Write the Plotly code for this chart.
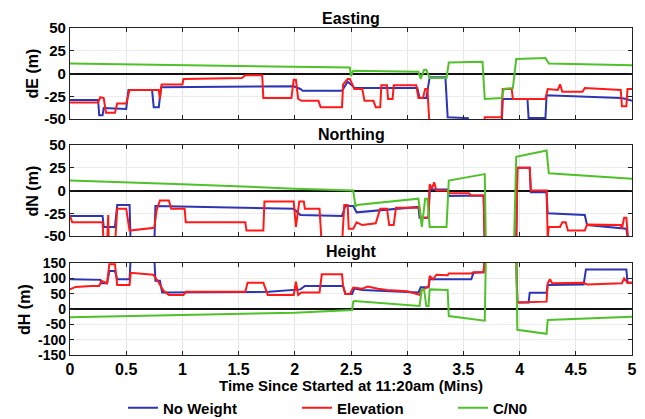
import plotly.graph_objects as go

# ---------------- data (time in minutes) ----------------
# Easting
E_nw_t = [0, 0.25, 0.26, 0.29, 0.30, 0.50, 0.52, 0.73, 0.745, 0.79, 0.81, 1.5, 1.99, 2.05, 2.07, 2.42, 2.47, 2.50, 2.53, 3.09, 3.11, 3.17, 3.20, 3.34, 3.36, 3.54, 3.55, 3.84, 3.85, 4.07, 4.08, 4.23, 4.24, 4.9, 4.95, 5.0]
E_nw   = [-29, -29, -46, -46, -38, -39, -18, -18, -37, -37, -15, -14, -14, -17, -19, -19, -9, -12, -16, -16, -27, -27, -4, -4, -48, -49, -60, -60, -28, -28, -49, -49, -24, -27, -28, -30]
E_el_t = [0, 0.25, 0.27, 0.30, 0.32, 0.40, 0.42, 0.50, 0.53, 0.79, 0.80, 0.815, 1.00, 1.01, 1.53, 1.56, 1.71, 1.72, 1.97, 1.99, 2.01, 2.03, 2.06, 2.21, 2.23, 2.42, 2.43, 2.47, 2.49, 2.53, 2.60, 2.62, 2.70, 2.72, 2.76, 2.77, 2.82, 2.83, 2.87, 2.88, 3.08, 3.10, 3.14, 3.16, 3.18, 3.20, 3.68, 3.69, 3.84, 3.85, 3.93, 3.94, 4.23, 4.25, 4.34, 4.36, 4.38, 4.56, 4.58, 4.90, 4.91, 4.95, 4.96, 5.0]
E_el   = [-32, -32, -26, -27, -43, -43, -33, -33, -18, -18, -28, -12, -12, -6, -5, -2, -2, -27, -27, -7, -7, -28, -30, -30, -37, -37, -12, -6, -6, -17, -17, -30, -30, -37, -37, -13, -13, -28, -28, -13, -13, -27, -27, -17, -17, -60, -60, -48, -48, -17, -17, -28, -28, -17, -18, -12, -20, -20, -16, -18, -36, -36, -17, -17]
E_cn_t = [0, 1.0, 2.0, 2.49, 2.50, 2.52, 3.10, 3.12, 3.15, 3.17, 3.20, 3.35, 3.37, 3.67, 3.69, 3.84, 3.86, 3.94, 3.97, 4.23, 4.26, 5.0]
E_cn   = [11, 9, 7, 6.5, -3, 3, 2, -6, 4, 4, -5, -5, 12, 13, -28, -27, -17, -16, 16, 17, 11, 9]

# Northing
N_nw_t = [0, 0.29, 0.30, 0.40, 0.42, 0.53, 0.54, 0.75, 0.76, 1.99, 2.05, 2.42, 2.45, 2.52, 2.55, 3.10, 3.11, 3.19, 3.20, 3.36, 3.37, 3.55, 3.57, 3.68, 3.69, 3.97, 3.98, 4.09, 4.10, 4.24, 4.25, 4.58, 4.60, 4.95, 4.97, 5.0]
N_nw   = [-28, -28, -40, -40, -16, -16, -60, -60, -17, -20, -27, -28, -17, -17, -24, -18, -30, -30, 1, 1, -6, -6, -5.5, -5.5, -60, -60, 25, 25, -2, -2, -25, -27, -38, -42, -60, -60]
N_el_t = [0, 0.02, 0.29, 0.30, 0.33, 0.34, 0.345, 0.40, 0.42, 0.50, 0.53, 0.75, 0.77, 0.80, 0.88, 0.90, 1.02, 1.03, 1.56, 1.57, 1.72, 1.73, 1.99, 2.01, 2.04, 2.08, 2.09, 2.22, 2.24, 2.42, 2.44, 2.47, 2.48, 2.52, 2.55, 2.60, 2.72, 2.76, 2.82, 2.84, 2.88, 2.90, 3.11, 3.12, 3.19, 3.20, 3.22, 3.24, 3.26, 3.36, 3.37, 3.55, 3.57, 3.68, 3.69, 3.97, 3.98, 4.09, 4.10, 4.24, 4.25, 4.26, 4.36, 4.38, 4.41, 4.43, 4.58, 4.60, 4.90, 4.91, 4.93, 4.95, 4.97, 5.0]
N_el   = [-28, -35, -35, -60, -60, -27, -60, -60, -20, -20, -44, -41, -22, -11, -11, -20, -20, -35, -35, -44, -44, -12, -12, -40, -12, -12, -20, -20, -60, -60, -16, -16, -42, -42, -35, -38, -36, -20, -20, -38, -38, -19, -19, -30, -30, 7, 2, 9, 0, 0, -3, -3, -5.5, -5.5, -60, -60, 25, 25, 0, 0, -52, -40, -40, -35, -35, -44, -44, -37.5, -38, -42, -30, -30, -60, -60]
N_cn_t = [0, 1.0, 2.0, 2.52, 2.54, 2.55, 3.10, 3.13, 3.16, 3.18, 3.20, 3.35, 3.37, 3.69, 3.70, 3.95, 3.97, 4.24, 4.26, 5.0]
N_cn   = [11, 7, 2, 0, -18, -16, -9, -40, -9, -9, -40, -40, 11, 18, -60, -60, 37, 44, 19, 13]

# Height
H_nw_t = [0, 0.27, 0.28, 0.33, 0.35, 0.40, 0.42, 0.53, 0.54, 0.75, 0.76, 0.80, 0.82, 1.77, 2.05, 2.09, 2.43, 2.45, 2.51, 2.53, 2.60, 3.10, 3.12, 3.19, 3.20, 3.57, 3.59, 3.68, 3.69, 3.97, 3.98, 4.08, 4.09, 4.24, 4.25, 4.57, 4.59, 4.95, 4.96, 5.0]
H_nw   = [97, 95, 84, 84, 124, 124, 97, 97, 170, 170, 92, 92, 54, 56, 64, 75, 75, 49, 49, 67, 62, 54, 71, 71, 97, 97, 118, 120, 170, 170, 21, 21, 53, 53, 78, 80, 129, 129, 86, 86]
H_el_t = [0, 0.05, 0.19, 0.26, 0.28, 0.33, 0.35, 0.40, 0.42, 0.53, 0.54, 0.74, 0.78, 0.83, 0.88, 1.01, 1.03, 1.56, 1.58, 1.72, 1.76, 1.99, 2.01, 2.03, 2.06, 2.22, 2.24, 2.42, 2.43, 2.45, 2.49, 2.52, 2.60, 2.65, 2.74, 2.82, 3.0, 3.11, 3.13, 3.19, 3.20, 3.23, 3.26, 3.36, 3.37, 3.57, 3.59, 3.68, 3.69, 3.97, 3.98, 4.24, 4.25, 4.27, 4.29, 4.57, 4.60, 4.91, 4.93, 4.96, 5.0]
H_el   = [64, 72, 75, 75, 92, 84, 146, 146, 78, 78, 118, 112, 92, 60, 46, 46, 56, 56, 86, 86, 46, 46, 89, 46, 54, 54, 113, 113, 73, 49, 49, 70, 66, 73, 66, 62, 58, 46, 62, 73, 108, 97, 112, 110, 116, 116, 120, 120, 170, 170, 21, 24, 84, 97, 84, 86, 80, 84, 100, 86, 86]
H_cn_t = [0, 1.0, 2.0, 2.51, 2.52, 2.53, 3.11, 3.13, 3.15, 3.17, 3.19, 3.20, 3.36, 3.37, 3.69, 3.70, 3.97, 3.98, 4.24, 4.25, 5.0]
H_cn   = [-27, -20, -12, -3, 24, 26, 10, 64, 64, 10, 10, 64, 62, -23, -38, 170, 170, -68, -81, -36, -25]

series_names = ["No Weight", "Elevation", "C/N0"]
panel_titles = ["Easting", "Northing", "Height"]
panel_ylabels = ["dE (m)", "dN (m)", "dH (m)"]
x_ticks = [0, 0.5, 1, 1.5, 2, 2.5, 3, 3.5, 4, 4.5, 5]
x_ticktext = ["0", "0.5", "1", "1.5", "2", "2.5", "3", "3.5", "4", "4.5", "5"]
y_ticks_en = [50, 25, 0, -25, -50]
y_ticks_h = [150, 100, 50, 0, -50, -100, -150]

# ---------------- figure ----------------
colors = ["#2b35b5", "#ff1a1a", "#4fc22a"]
FONT = "Liberation Sans, Arial, sans-serif"
legend_ids = ["legend", "legend2", "legend3"]
legend_x = [0.0943, 0.4039, 0.6815]

panels = [
    [(E_nw_t, E_nw), (E_el_t, E_el), (E_cn_t, E_cn)],
    [(N_nw_t, N_nw), (N_el_t, N_el), (N_cn_t, N_cn)],
    [(H_nw_t, H_nw), (H_el_t, H_el), (H_cn_t, H_cn)],
]

fig = go.Figure()
for p, panel in enumerate(panels):
    xa = "x" if p == 0 else f"x{p+1}"
    ya = "y" if p == 0 else f"y{p+1}"
    for s, (t, v) in enumerate(panel):
        fig.add_trace(go.Scatter(
            x=t, y=v, mode="lines", name=series_names[s],
            line=dict(color=colors[s], width=2),
            xaxis=xa, yaxis=ya, showlegend=(p == 0), legend=legend_ids[s],
        ))

domains = [[0.7217, 1.0], [0.3639, 0.6422], [0.0, 0.2813]]
common_x = dict(range=[0, 5], tickvals=x_ticks, ticktext=x_ticktext, ticks="inside",
                ticklen=4, tickcolor="#222", showline=True, linecolor="#222", linewidth=1.2,
                mirror="allticks", showgrid=True, gridcolor="#e6e6e6", gridwidth=1,
                zeroline=False, domain=[0, 1], tickfont=dict(size=16))
layout = dict()
for p in range(3):
    xk = "xaxis" if p == 0 else f"xaxis{p+1}"
    yk = "yaxis" if p == 0 else f"yaxis{p+1}"
    xd = dict(common_x)
    xd["anchor"] = "y" if p == 0 else f"y{p+1}"
    xd["showticklabels"] = (p == 2)
    if p > 0:
        xd["matches"] = "x"
    layout[xk] = xd
    yt = y_ticks_en if p < 2 else y_ticks_h
    rng = [-50, 50] if p < 2 else [-150, 150]
    layout[yk] = dict(range=rng, tickvals=yt, ticktext=[str(v) for v in yt], ticks="inside",
                      ticklen=4, tickcolor="#222", showline=True, linecolor="#222", linewidth=1.2,
                      mirror="allticks", showgrid=True, gridcolor="#ececec", gridwidth=1,
                      zeroline=True, zerolinecolor="#111", zerolinewidth=1.5,
                      domain=domains[p], anchor="x" if p == 0 else f"x{p+1}",
                      tickfont=dict(size=15 if p < 2 else 14))

annotations = []
title_y = [1.03, 0.675, 0.318]
for p in range(3):
    annotations.append(dict(text=panel_titles[p], xref="paper", yref="paper", x=0.5, y=title_y[p],
                            xanchor="center", yanchor="middle", showarrow=False,
                            font=dict(size=16, family=FONT, weight="bold")))
    yc = sum(domains[p]) / 2
    annotations.append(dict(text=panel_ylabels[p], xref="paper", yref="paper",
                            x=-0.066 if p < 2 else -0.082, y=yc, textangle=-90,
                            xanchor="center", yanchor="middle", showarrow=False,
                            font=dict(size=16, family=FONT, weight="bold")))
annotations.append(dict(text="Time Since Started at 11:20am (Mins)", xref="paper", yref="paper",
                        x=0.5, y=-0.093, xanchor="center", yanchor="middle", showarrow=False,
                        font=dict(size=15, family=FONT, weight="bold")))

legends = {}
for i, lid in enumerate(legend_ids):
    legends[lid] = dict(orientation="h", x=legend_x[i], y=-0.162, xanchor="left", yanchor="middle",
                        font=dict(size=15, family=FONT, weight="bold"),
                        bgcolor="rgba(0,0,0,0)", itemwidth=30, borderwidth=0)

fig.update_layout(
    **layout,
    **legends,
    annotations=annotations,
    width=645, height=419,
    margin=dict(l=70, r=13, t=28, b=64, autoexpand=False),
    paper_bgcolor="white", plot_bgcolor="white",
    font=dict(family=FONT, size=15, color="black", weight="bold"),
    showlegend=True,
)

fig.write_html("out.html")
